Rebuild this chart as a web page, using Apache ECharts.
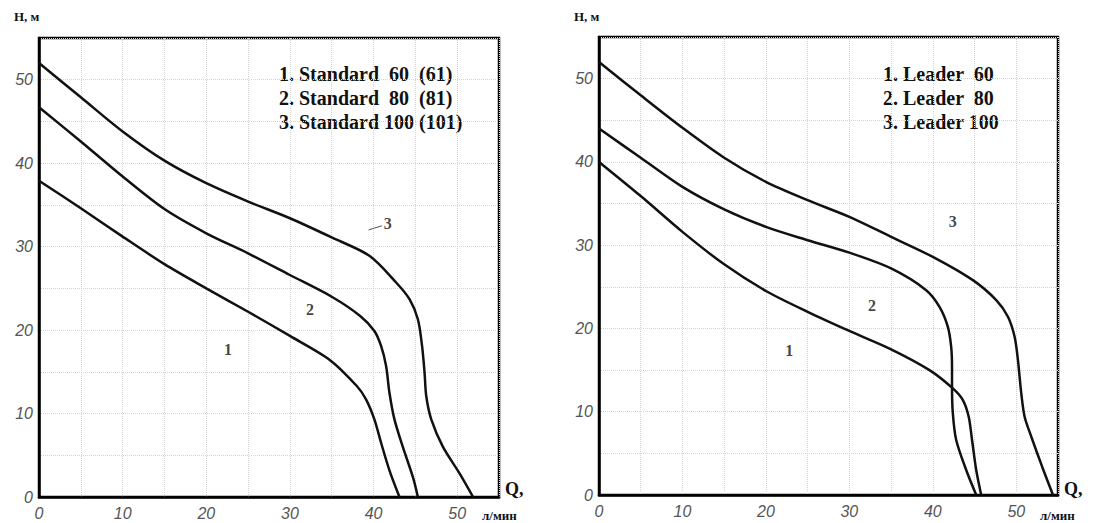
<!DOCTYPE html>
<html>
<head>
<meta charset="utf-8">
<script src="https://cdn.jsdelivr.net/npm/echarts@6/dist/echarts.min.js"></script>
<style>
html,body{margin:0;padding:0;background:#fff;}
#chart{width:1095px;height:523px;}
</style>
</head>
<body>
<div id="chart"></div>
<script>
// Left chart: Standard pumps (Q l/min, H m)
const standard60 = [[0,37.9],[5,34.6],[10,31.2],[15,27.9],[20,25],[25,22.2],[30,19.3],[34.8,16.4],[38,13.3],[39.1,11.7],[40.1,9.3],[40.9,6.5],[41.9,3.2],[43.1,0]];
const standard80 = [[0,46.7],[5,42.6],[10,38.4],[15,34.5],[20,31.6],[25,29.2],[30,26.6],[35,24],[38.4,21.7],[40.1,19.9],[40.9,18.1],[41.5,15.7],[41.9,12.5],[42.5,9.3],[43.5,6],[44.7,2.4],[45.3,0]];
const standard100 = [[0,52],[5,47.9],[10,43.8],[15,40.3],[20,37.6],[25,35.4],[30,33.4],[35,31.1],[39.5,28.9],[42.7,25.7],[44.3,23.7],[45.3,21.3],[45.8,18.1],[46.1,14.9],[46.3,12.1],[46.9,9.3],[48.3,6],[50.3,2.8],[51.9,0]];
// Right chart: Leader pumps
const leader60 = [[0,40],[5,35.9],[10,31.6],[15,27.7],[20,24.5],[25,22],[30,19.7],[35,17.5],[39.6,15],[42.4,12.8],[43.6,11.4],[44.3,9.4],[44.7,6.6],[45.2,3],[45.8,0]];
const leader80 = [[0,44],[5,40.5],[10,37],[15,34.3],[20,32.2],[25,30.6],[30,29.1],[35,27.2],[39.2,24.6],[40.8,22.6],[41.8,20.2],[42.2,17.8],[42.3,15.4],[42.3,13],[42.4,9.8],[42.8,6.6],[44,3],[45.2,0]];
const leader100 = [[0,52],[5,48],[10,44.1],[15,40.5],[20,37.6],[25,35.4],[30,33.4],[35,31],[40,28.6],[44.8,25.8],[47.6,23.4],[49,21.4],[49.8,19],[50.2,16.2],[50.6,12.2],[51,9.4],[51.8,7],[53.1,3.4],[54.4,0]];
// Curve number labels (position in data coords)
const leftCurveLabels = [[22.6,17.7,'1'],[32.4,22.5,'2'],[41.7,32.8,'3']];
const rightCurveLabels = [[22.8,17.4,'1'],[32.7,22.8,'2'],[42.4,32.8,'3']];
const leftLeader3 = [[39.4,32.0],[41.0,32.5]];
// Legends
const leftLegend = ['1. Standard  60  (61)','2. Standard  80  (81)','3. Standard 100 (101)'];
const rightLegend = ['1. Leader  60','2. Leader  80','3. Leader 100'];
const axisMax = 55, tickStep = 5, labelStep = 10;

const tickFont = {fontFamily:'Liberation Sans', fontStyle:'italic', fontSize:16, color:'#555'};
const serifBold = {fontFamily:'Liberation Serif', fontWeight:'bold', fill:'#111'};

function mkX(idx){
  return {type:'value', gridIndex:idx, min:0, max:axisMax, interval:tickStep,
    axisLine:{show:true, lineStyle:{color:'#000', width:2.5}},
    axisTick:{show:false},
    axisLabel:Object.assign({margin:8, formatter:v=> v%labelStep===0 ? String(v) : ''}, tickFont),
    splitLine:{show:true, lineStyle:{color:'#d4d4d4', type:'dotted', width:1}}};
}
function mkY(idx){
  return {type:'value', gridIndex:idx, min:0, max:axisMax, interval:tickStep,
    axisLine:{show:true, lineStyle:{color:'#000', width:2.5}},
    axisTick:{show:false},
    axisLabel:Object.assign({margin:6, formatter:v=> v%labelStep===0 ? String(v) : ''}, tickFont),
    splitLine:{show:true, lineStyle:{color:'#d4d4d4', type:'dotted', width:1}}};
}
function curve(data, idx){
  return {type:'line', xAxisIndex:idx, yAxisIndex:idx, data:data, smooth:0.3, showSymbol:false,
    lineStyle:{color:'#111', width:2.5}, silent:true, z:5};
}
function labels(arr, idx){
  return {type:'scatter', xAxisIndex:idx, yAxisIndex:idx, symbolSize:0,
    data:arr.map(a=>({value:[a[0],a[1]], name:a[2]})),
    label:{show:true, formatter:p=>p.name, position:'inside', fontFamily:'Liberation Serif', fontWeight:'bold', fontSize:16, color:'#111'}, silent:true};
}
function legendText(lines, x, y){
  return lines.map((t,i)=>({type:'text', left:x, top:y+i*24, style:Object.assign({text:t, fontSize:20}, serifBold)}));
}

const chart = echarts.init(document.getElementById('chart'), null, {renderer:'svg'});
chart.setOption({
  backgroundColor:'#fff',
  animation:false,
  grid:[
    {left:39, top:38, width:460, height:459, show:true, borderColor:'#000', borderWidth:2.5, backgroundColor:'transparent'},
    {left:599, top:37, width:459, height:458, show:true, borderColor:'#000', borderWidth:2.5, backgroundColor:'transparent'}
  ],
  xAxis:[mkX(0), mkX(1)],
  yAxis:[mkY(0), mkY(1)],
  series:[
    curve(standard60,0), curve(standard80,0), curve(standard100,0),
    curve(leader60,1), curve(leader80,1), curve(leader100,1),
    labels(leftCurveLabels,0), labels(rightCurveLabels,1),
    {type:'line', xAxisIndex:0, yAxisIndex:0, data:leftLeader3, showSymbol:false, lineStyle:{color:'#555', width:1}, silent:true}
  ],
  graphic:[
    ...legendText(leftLegend, 279, 64),
    ...legendText(rightLegend, 883, 64),
    {type:'text', left:14, top:10, style:Object.assign({text:'H, м', fontSize:13}, serifBold)},
    {type:'text', left:574, top:10, style:Object.assign({text:'H, м', fontSize:13}, serifBold)},
    {type:'text', left:505, top:480, style:Object.assign({text:'Q,', fontSize:18}, serifBold)},
    {type:'text', left:482, top:509, style:Object.assign({text:'л/мин', fontSize:13}, serifBold)},
    {type:'text', left:1064, top:480, style:Object.assign({text:'Q,', fontSize:18}, serifBold)},
    {type:'text', left:1040, top:509, style:Object.assign({text:'л/мин', fontSize:13}, serifBold)}
  ]
});
</script>
</body>
</html>
